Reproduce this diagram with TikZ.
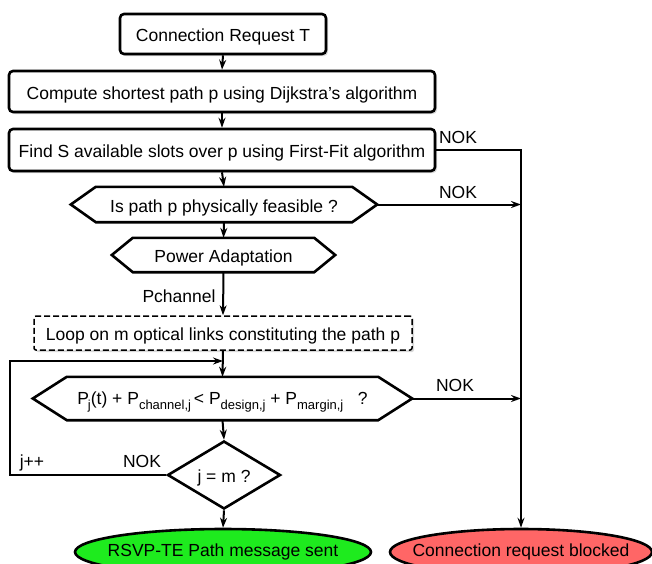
\documentclass[tikz,border=0pt]{standalone}
\usepackage{fontspec}
\setmainfont{Liberation Sans}
\usetikzlibrary{shapes.geometric,arrows.meta,shadows}
\definecolor{okgreen}{RGB}{30,235,30}
\definecolor{blockred}{RGB}{255,102,102}
\newcommand{\sbs}[1]{\raisebox{-0.3em}{\fontsize{13}{13}\selectfont #1}}
\begin{document}
\begin{tikzpicture}[x=1pt,y=-1pt,
  txt/.style={font=\fontsize{17.5}{20}\selectfont, inner sep=0pt, text height=15pt, text depth=0pt},
  stepbox/.style={txt, draw, line width=2.6pt, rounded corners=4pt, fill=white,
    drop shadow={shadow xshift=2pt, shadow yshift=-2pt, fill=black!30}},
  hexbase/.style={txt},
  hexline/.style={line width=2.6pt, line join=miter, fill=white},
  loopbox/.style={txt, draw, dash pattern=on 6pt off 3pt, line width=1.5pt, rounded corners=2pt, fill=white,
    drop shadow={shadow xshift=2pt, shadow yshift=-2pt, fill=black!30}},
  endnode/.style={draw, ellipse, line width=2.6pt, inner sep=0pt},
  arr/.style={line width=2pt, -{Stealth[length=10pt,width=7pt]}},
  lbl/.style={txt}
]
\useasboundingbox (0,0) rectangle (652,563);

% rectangular steps
\node[stepbox, minimum width=206pt, minimum height=40pt] (b1) at (223,34) {Connection Request T};
\node[stepbox, minimum width=426pt, minimum height=41pt] (b2) at (222,91.5) {Compute shortest path p using Dijkstra's algorithm};
\node[stepbox, minimum width=426pt, minimum height=42pt] (b3) at (222,150) {Find S available slots over p using First-Fit algorithm};

% hexagons (text nodes + outline)
\node[hexbase, minimum width=306pt, minimum height=35pt] (h1) at (224,204.5) {};
\draw[hexline] (h1.west) -- ([xshift=25pt]h1.north west) -- ([xshift=-25pt]h1.north east) -- (h1.east)
  -- ([xshift=-25pt]h1.south east) -- ([xshift=25pt]h1.south west) -- cycle;
\node[txt] at (h1.center) {Is path p physically feasible ?};

\node[hexbase, minimum width=223pt, minimum height=34pt] (h2) at (223.5,255) {};
\draw[hexline] (h2.west) -- ([xshift=21pt]h2.north west) -- ([xshift=-21pt]h2.north east) -- (h2.east)
  -- ([xshift=-21pt]h2.south east) -- ([xshift=21pt]h2.south west) -- cycle;
\node[txt] at (h2.center) {Power Adaptation};

\node[loopbox, minimum width=378pt, minimum height=34pt] (lp) at (223,333) {Loop on m optical links constituting the path p};

\node[hexbase, minimum width=379pt, minimum height=43pt] (h3) at (222.5,398.5) {};
\draw[hexline] (h3.west) -- ([xshift=34pt]h3.north west) -- ([xshift=-34pt]h3.north east) -- (h3.east)
  -- ([xshift=-34pt]h3.south east) -- ([xshift=34pt]h3.south west) -- cycle;
\node[txt] at ([yshift=2pt]h3.center) {P\kern-1pt\sbs{j}(t) + P\sbs{channel,j}{\,}< P\sbs{design,j} + P\sbs{margin,j} \ \ ?};

\node[txt, draw, diamond, line width=2.6pt, fill=white, minimum width=113pt, minimum height=62pt] (dm) at (224,475) {j = m ?};

% terminal ellipses
\node[endnode, fill=okgreen, minimum width=296pt, minimum height=46pt] (g) at (223,552) {};
\node[txt] at (223,549) {RSVP-TE Path message sent};
\node[endnode, fill=blockred, minimum width=262pt, minimum height=46pt] (r) at (521,552) {};
\node[txt] at (521,549) {Connection request blocked};

% helper coordinates
\coordinate (c1) at (521,150);
\coordinate (c2) at (521,204.5);
\coordinate (c3) at (521,398.5);
\coordinate (fl) at (10,475);
\coordinate (fu) at (10,361);
\coordinate (fb) at (223,361);

% main flow
\draw[arr] (b1.south) -- (b2.north);
\draw[arr] (b2.south) -- (b3.north);
\draw[arr] (b3.south) -- (h1.north);
\draw[arr] (h1.south) -- (h2.north);
\draw[arr] (h2.south) -- (lp.north);
\draw[arr] (lp.south) -- (h3.north);
\draw[arr] (h3.south) -- (dm.north);
\draw[arr] (dm.south) -- (g.north);

% NOK branches
\draw[arr] (b3.east) -- (c1) -- (r.north);
\draw[arr] (h1.east) -- (c2);
\draw[arr] (h3.east) -- (c3);

% loop back
\draw[arr] (dm.west) -- (fl) -- (fu) -- (fb);

% labels
\node[lbl] (n1) at (458,136) {NOK};
\node[lbl] (n2) at (458,191) {NOK};
\node[lbl] (n3) at (455,384) {NOK};
\node[lbl] (n4) at (142,460) {NOK};
\node[lbl] (jp) at (32,460) {j++};
\node[lbl] (pc) at (179,295) {Pchannel};
\end{tikzpicture}
\end{document}
